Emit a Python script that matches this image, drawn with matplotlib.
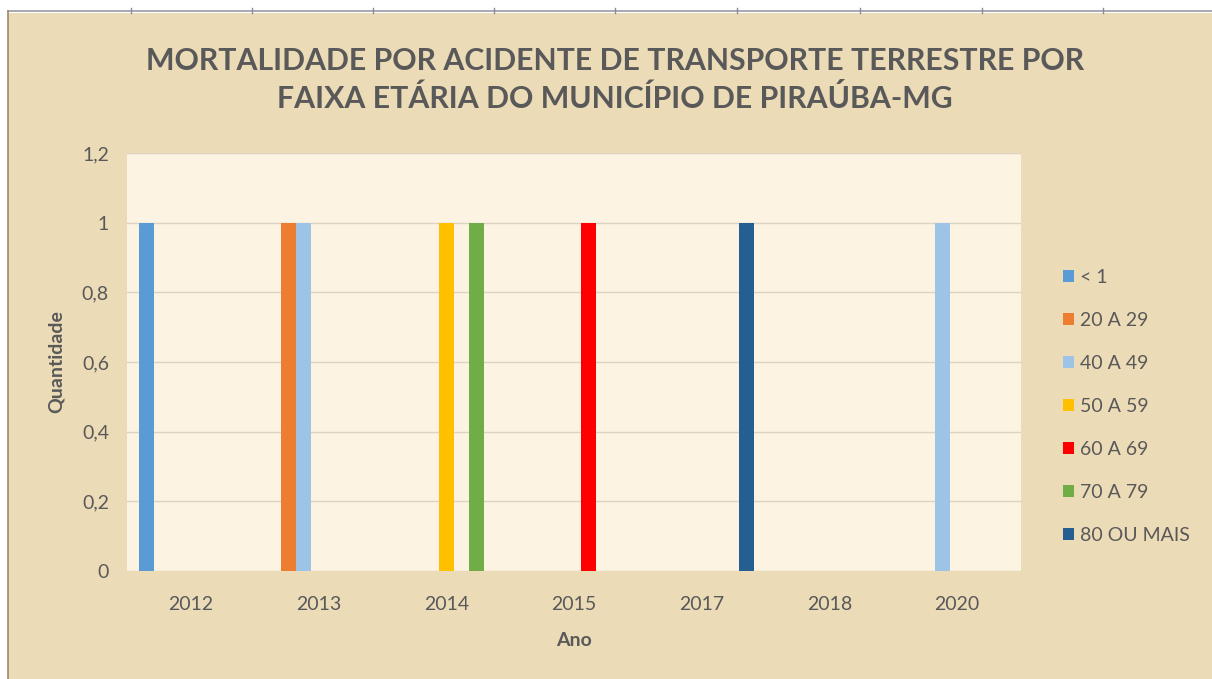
import matplotlib.pyplot as plt
from matplotlib.lines import Line2D
from matplotlib.patches import Rectangle
import numpy as np

years = ["2012", "2013", "2014", "2015", "2017", "2018", "2020"]
age_groups = ["< 1", "20 A 29", "40 A 49", "50 A 59", "60 A 69", "70 A 79", "80 OU MAIS"]
lt_1 = [1, 0, 0, 0, 0, 0, 0]
age_20_29 = [0, 1, 0, 0, 0, 0, 0]
age_40_49 = [0, 1, 0, 0, 0, 0, 1]
age_50_59 = [0, 0, 1, 0, 0, 0, 0]
age_60_69 = [0, 0, 0, 1, 0, 0, 0]
age_70_79 = [0, 0, 1, 0, 0, 0, 0]
age_80_plus = [0, 0, 0, 0, 1, 0, 0]
series = [lt_1, age_20_29, age_40_49, age_50_59, age_60_69, age_70_79, age_80_plus]
colors = ["#5B9BD5", "#ED7D31", "#9DC3E6", "#FFC000", "#FF0000", "#70AD47", "#255E91"]

W, H = 1212, 679
plt.rcParams["font.family"] = ["Lato", "DejaVu Sans"]
TEXT = "#595959"

fig = plt.figure(figsize=(W / 100, H / 100), dpi=100, facecolor="white")

# parchment background and sheet grid remnants at the top
fig.patches.append(Rectangle((8 / W, 0), 1 - 8 / W, 1 - 13 / H, transform=fig.transFigure,
                             facecolor="#ecdbb7", edgecolor="none", zorder=-10))
fig.lines.append(Line2D([8 / W, 1], [1 - 11 / H] * 2, transform=fig.transFigure,
                        color="#9a9aa6", linewidth=1.2))
fig.lines.append(Line2D([8 / W] * 2, [0, 1 - 11 / H], transform=fig.transFigure,
                        color="#a08a66", linewidth=1.2))
for tx in [131, 252, 373, 494, 615, 737, 860, 982, 1103]:
    fig.lines.append(Line2D([tx / W] * 2, [1 - 8 / H, 1 - 13 / H], transform=fig.transFigure,
                            color="#8a8a96", linewidth=1.0))

left, right, top, bottom = 127, 1021, 153, 571
ax = fig.add_axes([left / W, 1 - bottom / H, (right - left) / W, (bottom - top) / H])
ax.set_facecolor("#fcf3e2")

x = np.arange(len(years))
n = len(series)
width = 0.117
for i, (vals, name, col) in enumerate(zip(series, age_groups, colors)):
    ax.bar(x + (i - (n - 1) / 2) * width, vals, width=width, color=col, label=name, zorder=3)

ax.set_xlim(-0.5, len(years) - 0.5)
ax.set_ylim(0, 1.2)
ax.set_yticks(np.arange(0, 1.21, 0.2))
ax.set_yticklabels(["0", "0,2", "0,4", "0,6", "0,8", "1", "1,2"])
ax.set_xticks(x)
ax.set_xticklabels(years)
ax.grid(axis="y", color="#ddd3c2", linewidth=1.0, zorder=0)
for s in ax.spines.values():
    s.set_visible(False)
ax.tick_params(axis="both", length=0, labelsize=14, labelcolor=TEXT)
ax.tick_params(axis="y", pad=13)
ax.tick_params(axis="x", pad=18)

ax.set_xlabel("Ano", fontsize=14, fontweight="bold", color=TEXT, labelpad=14)
ax.set_ylabel("Quantidade", fontsize=14, fontweight="bold", color=TEXT, labelpad=12)

fig.text(615 / W, 1 - 80 / H, "MORTALIDADE POR ACIDENTE DE TRANSPORTE TERRESTRE POR\nFAIXA ETÁRIA DO MUNICÍPIO DE PIRAÚBA-MG",
         ha="center", va="center", fontsize=21.8, fontweight="bold", color=TEXT, linespacing=1.4)

leg = ax.legend(loc="upper left", bbox_to_anchor=(1055 / W, 1 - 261 / H), bbox_transform=fig.transFigure,
                frameon=False, fontsize=14, handlelength=0.6, handleheight=0.6, handletextpad=0.3,
                labelspacing=1.34, borderaxespad=0)
for t in leg.get_texts():
    t.set_color(TEXT)

fig.savefig("out.png", dpi=100, facecolor="white")
